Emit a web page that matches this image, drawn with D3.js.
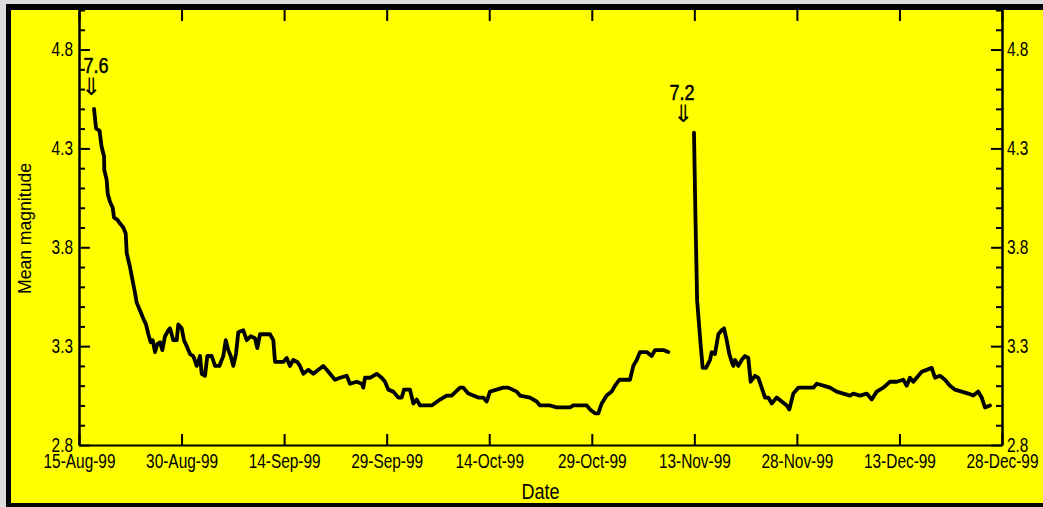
<!DOCTYPE html>
<html>
<head>
<meta charset="utf-8">
<script src="https://cdn.jsdelivr.net/npm/d3@7"></script>
<style>
  html, body { margin: 0; padding: 0; background: #dcdcdc; }
  svg { display: block; font-family: "Liberation Sans", Arial, sans-serif; }
</style>
</head>
<body>
<svg id="chart" width="1043" height="507"></svg>
<script>
// days after 15-Aug-99, and running mean magnitude (null = gap in the record)
const dayOffset = [
  2.2, 2.5, 3.0, 3.3, 3.66, 3.7, 4.05, 4.2, 4.53, 4.93, 5.12, 5.6, 6.0, 6.48, 6.83, 6.98, 7.46, 7.85, 8.19, 8.44,
  8.92, 9.4, 9.8, 10.14, 10.49, 10.78, 11.12, 11.45, 11.85, 12.18, 12.58, 13.06, 13.31, 13.79, 14.29, 14.52, 15.02, 15.36, 15.75, 16.24,
  16.72, 17.22, 17.7, 17.95, 18.43, 18.77, 19.41, 19.89, 20.52, 21.11, 21.46, 21.84, 22.19, 22.57, 22.96, 23.3, 24.03, 24.53, 25.11, 25.74,
  26.08, 26.47, 27.94, 28.42, 28.67, 29.88, 30.38, 30.86, 31.34, 31.93, 32.32, 32.81, 33.54, 34.27, 35.0, 35.73, 36.23, 36.71, 37.44, 38.17,
  39.15, 39.64, 40.62, 41.35, 41.58, 41.83, 42.56, 43.54, 44.27, 44.76, 45.24, 45.97, 46.7, 47.2, 47.54, 48.41, 48.9, 49.39, 49.88, 51.59,
  52.8, 53.78, 54.51, 55.73, 56.21, 56.94, 57.67, 58.4, 59.13, 59.63, 60.11, 61.09, 62.06, 62.79, 64.02, 64.5, 65.96, 66.94, 67.43, 68.89,
  69.87, 71.82, 72.3, 74.26, 74.74, 75.47, 75.96, 76.45, 77.18, 77.91, 78.4, 79.03, 80.59, 81.07, 81.57, 82.05, 83.03, 83.76, 84.25, 85.46,
  86.19, 88.0,
  89.95, 90.17, 90.41, 90.89, 91.22, 91.71, 92.29, 92.54, 93.02, 93.51, 94.0, 94.34, 94.73, 95.12, 95.47, 95.7, 95.95, 96.43, 96.93, 97.41,
  97.89, 98.24, 98.87, 99.36, 99.85, 100.34, 100.82, 101.32, 102.05, 102.78, 103.51, 103.89, 104.48, 105.21, 105.94, 106.67, 107.4, 107.9, 108.86, 109.84,
  110.82, 111.79, 112.77, 113.25, 114.23, 115.21, 115.94, 116.67, 117.64, 118.62, 119.6, 120.56, 121.06, 121.54, 122.03, 122.52, 123.26, 123.99, 124.72, 125.2,
  125.93, 126.66, 127.39, 128.13, 129.11, 130.07, 130.8, 131.53, 132.03, 132.51, 133.24
];
const meanMag = [
  4.50, 4.40, 4.39, 4.31, 4.26, 4.19, 4.14, 4.07, 4.03, 4.00, 3.95, 3.94, 3.92, 3.90, 3.87, 3.77, 3.70, 3.63, 3.57, 3.52,
  3.48, 3.44, 3.41, 3.36, 3.32, 3.33, 3.27, 3.31, 3.32, 3.28, 3.35, 3.38, 3.39, 3.33, 3.33, 3.41, 3.39, 3.33, 3.30, 3.26,
  3.25, 3.20, 3.25, 3.16, 3.15, 3.25, 3.25, 3.20, 3.20, 3.25, 3.33, 3.28, 3.25, 3.20, 3.26, 3.37, 3.38, 3.33, 3.35, 3.34,
  3.29, 3.36, 3.36, 3.33, 3.22, 3.22, 3.24, 3.20, 3.23, 3.22, 3.20, 3.16, 3.18, 3.16, 3.18, 3.20, 3.18, 3.16, 3.13, 3.14,
  3.15, 3.11, 3.12, 3.11, 3.09, 3.14, 3.14, 3.16, 3.14, 3.12, 3.08, 3.07, 3.04, 3.04, 3.08, 3.08, 3.01, 3.03, 3.00, 3.00,
  3.03, 3.05, 3.05, 3.09, 3.09, 3.06, 3.05, 3.04, 3.04, 3.02, 3.07, 3.08, 3.09, 3.09, 3.07, 3.05, 3.04, 3.02, 3.00, 3.00,
  2.99, 2.99, 3.00, 3.00, 2.98, 2.96, 2.96, 3.01, 3.05, 3.07, 3.10, 3.13, 3.13, 3.20, 3.23, 3.27, 3.27, 3.25, 3.28, 3.28,
  3.27, null,
  4.38, 3.94, 3.53, 3.32, 3.19, 3.19, 3.23, 3.27, 3.26, 3.36, 3.38, 3.39, 3.33, 3.26, 3.22, 3.20, 3.23, 3.20, 3.23, 3.25,
  3.24, 3.12, 3.15, 3.14, 3.09, 3.04, 3.04, 3.01, 3.04, 3.02, 3.00, 2.98, 3.06, 3.09, 3.09, 3.09, 3.09, 3.11, 3.10, 3.09,
  3.07, 3.06, 3.05, 3.06, 3.05, 3.06, 3.03, 3.07, 3.09, 3.12, 3.12, 3.13, 3.10, 3.14, 3.12, 3.14, 3.17, 3.18, 3.19, 3.14,
  3.15, 3.13, 3.10, 3.08, 3.07, 3.06, 3.05, 3.07, 3.04, 2.99, 3.00
];

// shocks marked with arrows
const shockLabels = ["7.6", "7.2"];
const shockDays = [1.75, 88.35];

const yMajor = [2.8, 3.3, 3.8, 4.3, 4.8];
const yMinor = [2.9, 3.0, 3.1, 3.2, 3.4, 3.5, 3.6, 3.7, 3.9, 4.0, 4.1, 4.2, 4.4, 4.5, 4.6, 4.7, 4.9, 5.0];
const dateTicks = ["15-Aug-99", "30-Aug-99", "14-Sep-99", "29-Sep-99", "14-Oct-99", "29-Oct-99",
                   "13-Nov-99", "28-Nov-99", "13-Dec-99", "28-Dec-99"];

const parseD = d3.utcParse("%d-%b-%y");
const fmtD = d3.utcFormat("%d-%b-%y");
const t0 = parseD(dateTicks[0]);
const toDate = dd => new Date(t0.getTime() + dd * 864e5);

const L = 79, R = 1002, T = 10, B = 445;

const svg = d3.select("#chart");

// squeeze text horizontally to mimic the narrow face of the original
function narrow(sel, k) {
  sel.each(function () {
    const w = this.getComputedTextLength();
    d3.select(this).attr("textLength", w * k).attr("lengthAdjust", "spacingAndGlyphs");
  });
}

// frame
svg.append("rect").attr("x", 6).attr("y", 4).attr("width", 1100).attr("height", 503).attr("fill", "#000");
svg.append("rect").attr("x", 11).attr("y", 10).attr("width", 1100).attr("height", 493).attr("fill", "#ffff00");

const x = d3.scaleUtc().domain([t0, parseD(dateTicks[dateTicks.length - 1])]).range([L, R]);
const y = d3.scaleLinear().domain([2.8, 5.0]).range([B, T]);

const tickVals = dateTicks.map(parseD);

function styleAxis(sel) {
  sel.attr("font-family", null).attr("font-size", null);
  sel.selectAll("path.domain").attr("stroke", "#000").attr("stroke-width", 2);
  sel.selectAll(".tick line").attr("stroke", "#000").attr("stroke-width", 2);
  sel.selectAll(".tick text").attr("font-size", "19.5px").attr("fill", "#000").call(narrow, 0.79);
}

// left axis (ticks inward)
const gl = svg.append("g").attr("transform", `translate(${L},0)`)
  .call(d3.axisLeft(y).tickValues(yMajor).tickFormat(d3.format(".1f")).tickSize(-11).tickSizeOuter(0).tickPadding(6));
styleAxis(gl);
const glm = svg.append("g").attr("transform", `translate(${L},0)`)
  .call(d3.axisLeft(y).tickValues(yMinor).tickFormat("").tickSize(-6).tickSizeOuter(0));
styleAxis(glm);

// right axis
const gr = svg.append("g").attr("transform", `translate(${R},0)`)
  .call(d3.axisRight(y).tickValues(yMajor).tickFormat(d3.format(".1f")).tickSize(-11).tickSizeOuter(0).tickPadding(5));
styleAxis(gr);
const grm = svg.append("g").attr("transform", `translate(${R},0)`)
  .call(d3.axisRight(y).tickValues(yMinor).tickFormat("").tickSize(-6).tickSizeOuter(0));
styleAxis(grm);

// bottom axis
const gb = svg.append("g").attr("transform", `translate(0,${B})`)
  .call(d3.axisBottom(x).tickValues(tickVals).tickFormat(fmtD).tickSize(-11).tickSizeOuter(0).tickPadding(9));
styleAxis(gb);

// top ticks
const gt = svg.append("g").attr("transform", `translate(0,${T})`)
  .call(d3.axisTop(x).tickValues(tickVals).tickFormat("").tickSize(-11).tickSizeOuter(0));
styleAxis(gt);
gt.select("path.domain").remove();

// axis titles
svg.append("text")
  .attr("transform", `translate(31,${(T + B) / 2 + 1}) rotate(-90)`)
  .attr("text-anchor", "middle")
  .attr("font-size", "17.5px")
  .attr("textLength", 131).attr("lengthAdjust", "spacingAndGlyphs")
  .text("Mean magnitude");

svg.append("text")
  .attr("x", (L + R) / 2).attr("y", 499)
  .attr("text-anchor", "middle")
  .attr("font-size", "22px")
  .text("Date")
  .call(narrow, 0.82);

// series
const pts = dayOffset.map((d, i) => ({ t: toDate(d), m: meanMag[i] }));
const line = d3.line().defined(d => d.m != null).x(d => x(d.t)).y(d => y(d.m));
svg.append("path")
  .datum(pts)
  .attr("fill", "none")
  .attr("stroke", "#000")
  .attr("stroke-width", 3.8)
  .attr("stroke-linejoin", "round")
  .attr("stroke-linecap", "round")
  .attr("d", line);

// shock annotations
const shockY = [73, 100];
const labelDx = [5, -1];
shockLabels.forEach((lab, i) => {
  const cx = x(toDate(shockDays[i]));
  svg.append("text")
    .attr("x", cx + labelDx[i]).attr("y", shockY[i])
    .attr("text-anchor", "middle")
    .attr("font-size", "22px")
    .attr("stroke", "#000").attr("stroke-width", 0.5)
    .text(lab)
    .call(narrow, 0.82);
  svg.append("text")
    .attr("x", cx).attr("y", shockY[i] + 22)
    .attr("text-anchor", "middle")
    .attr("font-family", "DejaVu Sans, sans-serif")
    .attr("font-size", "24px")
    .attr("fill", "#000")
    .text("\u21D3");
});
</script>
</body>
</html>
